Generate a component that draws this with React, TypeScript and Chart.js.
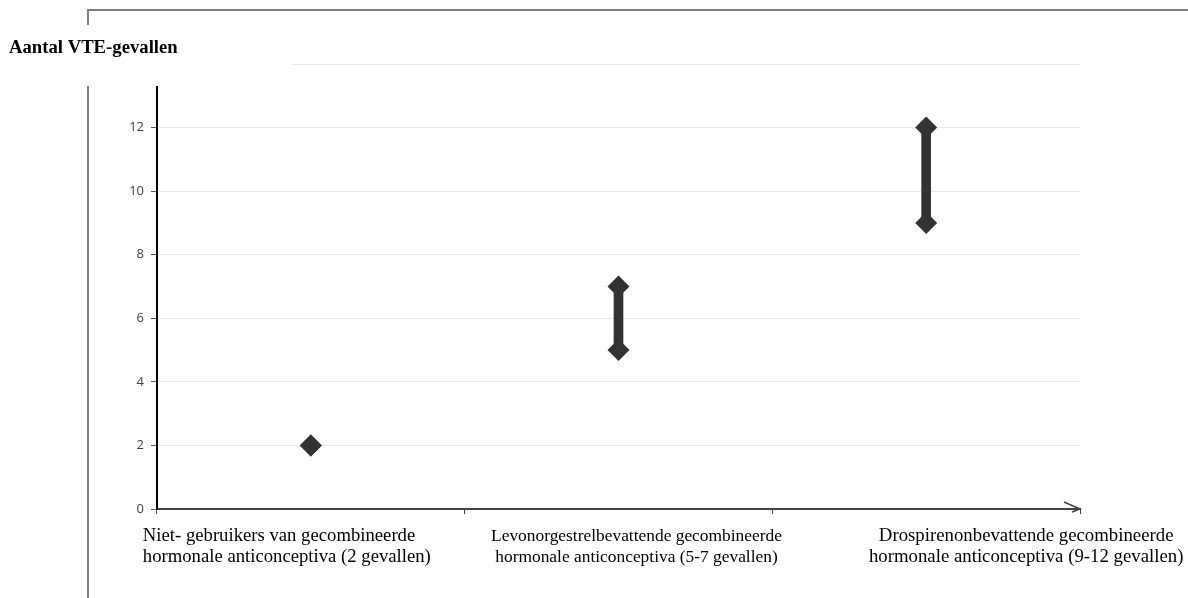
import React, { useEffect, useRef } from 'react';
import { Chart, registerables } from 'chart.js';

Chart.register(...registerables);

const TITLE = 'Aantal VTE-gevallen';
const CATEGORIES = [
  'Niet- gebruikers van gecombineerde hormonale anticonceptiva (2 gevallen)',
  'Levonorgestrelbevattende gecombineerde hormonale anticonceptiva (5-7 gevallen)',
  'Drospirenonbevattende gecombineerde hormonale anticonceptiva (9-12 gevallen)',
];
const CATEGORY_LINES: string[][] = [
  ['Niet- gebruikers van gecombineerde', 'hormonale anticonceptiva (2 gevallen)'],
  ['Levonorgestrelbevattende gecombineerde', 'hormonale anticonceptiva (5-7 gevallen)'],
  ['Drospirenonbevattende gecombineerde', 'hormonale anticonceptiva (9-12 gevallen)'],
];
const LOW = [2, 5, 9];
const HIGH = [2, 7, 12];
const Y_MIN = 0;
const Y_MAX = 14;
const Y_STEP = 2;

// label placement relative to each category centre (layout only)
const LABEL_LAYOUT: { align: CanvasTextAlign; dx: number; size: number }[] = [
  { align: 'left', dx: -168, size: 18.7 },
  { align: 'center', dx: 18, size: 17.4 },
  { align: 'center', dx: 100, size: 18.8 },
];

const overlayPlugin = {
  id: 'overlay',
  afterDraw(chart: any) {
    const ctx: CanvasRenderingContext2D = chart.ctx;
    const xs = chart.scales.x;
    const ys = chart.scales.y;
    const area = chart.chartArea;
    ctx.save();
    const ay = ys.getPixelForValue(0);
    // x-axis arrowhead
    ctx.strokeStyle = '#444';
    ctx.lineWidth = 1.5;
    ctx.beginPath();
    ctx.moveTo(area.right - 16, ay - 7);
    ctx.lineTo(area.right, ay);
    ctx.lineTo(area.right - 8, ay + 3);
    ctx.stroke();
    // category labels
    ctx.fillStyle = '#000';
    ctx.textBaseline = 'alphabetic';
    CATEGORY_LINES.forEach((lines, i) => {
      const lay = LABEL_LAYOUT[i];
      const cx = xs.getPixelForValue(i) + lay.dx;
      ctx.font = `${lay.size}px "Liberation Serif"`;
      ctx.textAlign = lay.align;
      lines.forEach((ln, j) => ctx.fillText(ln, cx, ay + 32 + j * 21));
    });
    // frame
    ctx.strokeStyle = '#808080';
    ctx.lineWidth = 2;
    ctx.beginPath();
    ctx.moveTo(88, 598);
    ctx.lineTo(88, 10);
    ctx.lineTo(1188, 10);
    ctx.stroke();
    // title box
    ctx.fillStyle = '#fff';
    ctx.fillRect(0, 25, 292, 61);
    ctx.font = 'bold 18.7px "Liberation Serif"';
    ctx.textAlign = 'left';
    ctx.fillStyle = '#000';
    ctx.fillText(TITLE, 9, 53);
    ctx.restore();
  },
};

export default function App() {
  const ref = useRef<HTMLCanvasElement | null>(null);
  useEffect(() => {
    if (!ref.current) return;
    const pointStyle = {
      type: 'line',
      showLine: false,
      pointStyle: 'rectRot',
      pointRadius: 11,
      pointBackgroundColor: '#333',
      pointBorderColor: '#333',
      pointBorderWidth: 0,
      order: 1,
    };
    const chart = new Chart(ref.current, {
      type: 'bar',
      data: {
        labels: CATEGORIES,
        datasets: [
          { ...pointStyle, label: 'laag', data: LOW } as any,
          { ...pointStyle, label: 'hoog', data: HIGH } as any,
          {
            type: 'bar',
            label: 'bereik',
            data: LOW.map((l, i) => [l, HIGH[i]]) as any,
            backgroundColor: '#333',
            barThickness: 9,
            order: 2,
          } as any,
        ],
      },
      options: {
        responsive: true,
        maintainAspectRatio: false,
        animation: false,
        layout: { padding: { top: 64, right: 108, left: 0, bottom: 0 } },
        plugins: {
          legend: { display: false },
          tooltip: { enabled: false },
        },
        scales: {
          x: {
            type: 'category',
            offset: true,
            grid: {
              offset: true,
              drawOnChartArea: false,
              drawTicks: true,
              tickLength: 5,
              tickColor: '#444',
            },
            border: { color: '#444', width: 2 },
            ticks: { display: false },
            afterFit(s: any) {
              s.height = 89;
            },
          },
          y: {
            min: Y_MIN,
            max: Y_MAX,
            ticks: {
              stepSize: Y_STEP,
              font: { family: '"Open Sans"', size: 13 },
              color: '#404040',
              padding: 7,
            },
            grid: { color: '#e8e8e8', tickLength: 6, tickColor: '#555' },
            border: { color: '#000', width: 2 },
            afterFit(s: any) {
              s.width = 157;
            },
          },
        },
      },
      plugins: [overlayPlugin],
    });
    return () => chart.destroy();
  }, []);
  return (
    <div style={{ position: 'absolute', left: 0, top: 0, width: 1188, height: 598 }}>
      <canvas ref={ref} />
    </div>
  );
}
